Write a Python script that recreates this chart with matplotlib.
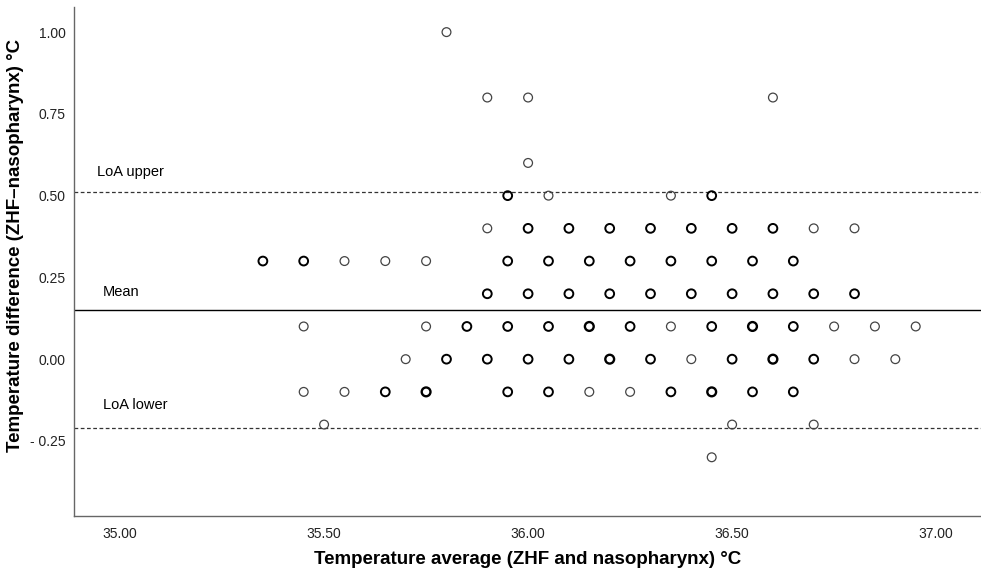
import matplotlib
matplotlib.use("Agg")
import matplotlib.pyplot as plt

# -----------------------------
# Data
# -----------------------------
# each row: difference value, averages, number of overlapping observations
diff_rows = [1.0, 0.8, 0.6, 0.5, 0.4, 0.3, 0.2, 0.1, 0.0, -0.1, -0.2, -0.3]

avg_rows = [
    [35.80],
    [35.90, 36.00, 36.60],
    [36.00],
    [35.95, 36.05, 36.35, 36.45],
    [35.90, 36.00, 36.10, 36.20, 36.30, 36.40, 36.50, 36.60, 36.70, 36.80],
    [35.35, 35.45, 35.55, 35.65, 35.75, 35.95, 36.05, 36.15, 36.25, 36.35,
     36.45, 36.55, 36.65],
    [35.90, 36.00, 36.10, 36.20, 36.30, 36.40, 36.50, 36.60, 36.70, 36.80],
    [35.45, 35.75, 35.85, 35.95, 36.05, 36.15, 36.25, 36.35, 36.45, 36.55,
     36.65, 36.75, 36.85, 36.95],
    [35.70, 35.80, 35.90, 36.00, 36.10, 36.20, 36.30, 36.40, 36.50, 36.60,
     36.70, 36.80, 36.90],
    [35.45, 35.55, 35.65, 35.75, 35.95, 36.05, 36.15, 36.25, 36.35, 36.45,
     36.55, 36.65],
    [35.50, 36.50, 36.70],
    [36.45],
]

count_rows = [
    [1],
    [1, 1, 1],
    [1],
    [2, 1, 1, 2],
    [1, 2, 2, 2, 2, 2, 2, 2, 1, 1],
    [2, 2, 1, 1, 1, 2, 2, 2, 2, 2, 2, 2, 2],
    [2, 2, 2, 2, 2, 2, 2, 2, 2, 2],
    [1, 1, 2, 2, 2, 3, 2, 1, 2, 3, 2, 1, 1, 1],
    [1, 2, 2, 2, 2, 3, 2, 1, 2, 3, 2, 1, 1],
    [1, 1, 2, 3, 2, 2, 1, 1, 2, 3, 2, 2],
    [1, 1, 1],
    [1],
]

MEAN_DIFF = 0.15
LOA_UPPER = 0.51
LOA_LOWER = -0.21

x_ticks = [35.0, 35.5, 36.0, 36.5, 37.0]
x_tick_labels = ["35.00", "35.50", "36.00", "36.50", "37.00"]
y_ticks = [-0.25, 0.0, 0.25, 0.5, 0.75, 1.0]
y_tick_labels = ["- 0.25", "0.00", "0.25", "0.50", "0.75", "1.00"]

plt.rcParams["font.family"] = ["Liberation Sans", "DejaVu Sans"]

# -----------------------------
# Plot
# -----------------------------
fig = plt.figure(figsize=(9.81, 5.78), dpi=100)
ax = fig.add_axes([0.0754, 0.107, 0.9246, 0.881])

for y_val, xs, counts in zip(diff_rows, avg_rows, count_rows):
    for x_val, n in zip(xs, counts):
        lw = {1: 0.9, 2: 1.4, 3: 1.7}[n]
        col = "#444444" if n == 1 else "black"
        ax.scatter([x_val], [y_val], s=40, facecolors="none",
                   edgecolors=col, linewidths=lw, zorder=3)

ax.axhline(MEAN_DIFF, color="black", lw=1.0, zorder=2)
ax.axhline(LOA_UPPER, color="#333333", lw=0.9, ls=(0, (3, 2)), zorder=2)
ax.axhline(LOA_LOWER, color="#333333", lw=0.9, ls=(0, (3, 2)), zorder=2)

ax.text(34.944, LOA_UPPER + 0.062, "LoA upper", fontsize=10.5, va="center")
ax.text(34.957, MEAN_DIFF + 0.055, "Mean", fontsize=10.5, va="center")
ax.text(34.959, LOA_LOWER + 0.069, "LoA lower", fontsize=10.5, va="center")

ax.set_xlim(34.887, 37.11)
ax.set_ylim(-0.48, 1.077)
ax.set_xticks(x_ticks)
ax.set_xticklabels(x_tick_labels)
ax.set_yticks(y_ticks)
ax.set_yticklabels(y_tick_labels)
ax.tick_params(length=0, labelsize=10, colors="#222222")
ax.tick_params(axis="x", pad=8)
ax.tick_params(axis="y", pad=6)

for side in ["top", "right"]:
    ax.spines[side].set_visible(False)
for side in ["left", "bottom"]:
    ax.spines[side].set_color("#666666")
    ax.spines[side].set_linewidth(1.0)

ax.set_xlabel("Temperature average (ZHF and nasopharynx) °C",
              fontsize=13.5, fontweight="bold", va="center")
ax.set_ylabel("Temperature difference (ZHF\u2013nasopharynx) °C",
              fontsize=13.5, fontweight="bold", va="center")
ax.xaxis.set_label_coords(0.5, -0.0845)
ax.yaxis.set_label_coords(-0.065, 0.532)

fig.savefig("out.png", dpi=100)
